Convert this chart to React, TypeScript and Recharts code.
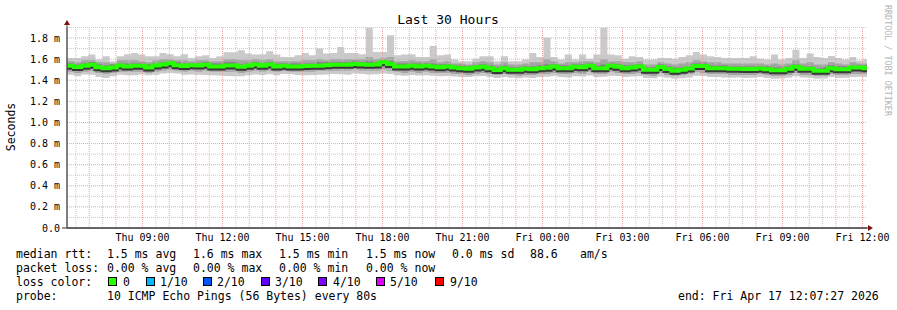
import React from "react";
import { ComposedChart, Area, Line, XAxis, YAxis, ReferenceLine } from "recharts";

const FONT = "'DejaVu Sans Mono', monospace";

// time axis in hours since Thu 00:00, 30 hours ending Fri ~12:10, 16 min steps
const START = 6 + 10 / 60;
const END = START + 30;
const STEP = 16 / 60;

const tickHours = [9, 12, 15, 18, 21, 24, 27, 30, 33, 36];
const tickLabels = [
  "Thu 09:00", "Thu 12:00", "Thu 15:00", "Thu 18:00", "Thu 21:00",
  "Fri 00:00", "Fri 03:00", "Fri 06:00", "Fri 09:00", "Fri 12:00",
];
const yTicks = [0, 0.2, 0.4, 0.6, 0.8, 1.0, 1.2, 1.4, 1.6, 1.8];
const yMinor = [0.1, 0.3, 0.5, 0.7, 0.9, 1.1, 1.3, 1.5, 1.7, 1.9];

// rtt in ms, per 16 min step
const rttMax = [
  1.612, 1.612, 1.628, 1.643, 1.596, 1.628, 1.580, 1.628, 1.646, 1.659,
  1.643, 1.628, 1.628, 1.659, 1.646, 1.628, 1.646, 1.612, 1.628, 1.637,
  1.612, 1.628, 1.665, 1.665, 1.684, 1.653, 1.643, 1.646, 1.674, 1.643,
  1.621, 1.621, 1.637, 1.659, 1.637, 1.700, 1.653, 1.659, 1.716, 1.659,
  1.659, 1.646, 1.899, 1.668, 1.668, 1.826, 1.637, 1.643, 1.646, 1.621,
  1.621, 1.725, 1.637, 1.643, 1.596, 1.580, 1.580, 1.605, 1.628, 1.628,
  1.580, 1.628, 1.580, 1.580, 1.596, 1.659, 1.621, 1.804, 1.621, 1.596,
  1.643, 1.596, 1.643, 1.605, 1.643, 1.899, 1.643, 1.637, 1.605, 1.628,
  1.621, 1.596, 1.596, 1.612, 1.612, 1.605, 1.621, 1.637, 1.668, 1.643,
  1.628, 1.621, 1.612, 1.612, 1.612, 1.612, 1.628, 1.605, 1.596, 1.643,
  1.596, 1.612, 1.690, 1.612, 1.653, 1.621, 1.612, 1.631, 1.612, 1.596,
  1.621, 1.587, 1.600,
];
const rttHi2 = [
  1.58, 1.57, 1.59, 1.59, 1.57, 1.57, 1.56, 1.59, 1.59, 1.59,
  1.58, 1.57, 1.59, 1.60, 1.60, 1.59, 1.59, 1.58, 1.59, 1.59,
  1.58, 1.58, 1.60, 1.60, 1.59, 1.59, 1.60, 1.59, 1.60, 1.58,
  1.58, 1.58, 1.58, 1.59, 1.59, 1.60, 1.59, 1.60, 1.60, 1.60,
  1.60, 1.60, 1.62, 1.60, 1.61, 1.62, 1.58, 1.58, 1.59, 1.58,
  1.58, 1.60, 1.57, 1.58, 1.56, 1.56, 1.55, 1.57, 1.58, 1.57,
  1.55, 1.57, 1.55, 1.55, 1.56, 1.57, 1.57, 1.60, 1.58, 1.56,
  1.57, 1.57, 1.58, 1.58, 1.57, 1.60, 1.58, 1.58, 1.57, 1.57,
  1.58, 1.55, 1.55, 1.57, 1.56, 1.55, 1.56, 1.57, 1.59, 1.58,
  1.57, 1.57, 1.56, 1.56, 1.56, 1.56, 1.56, 1.56, 1.55, 1.56,
  1.55, 1.56, 1.59, 1.56, 1.57, 1.55, 1.55, 1.57, 1.56, 1.55,
  1.57, 1.56, 1.56,
];
const rttHi3 = [
  1.56, 1.55, 1.56, 1.57, 1.55, 1.54, 1.55, 1.56, 1.56, 1.56,
  1.56, 1.55, 1.56, 1.57, 1.58, 1.57, 1.56, 1.56, 1.56, 1.57,
  1.56, 1.56, 1.57, 1.57, 1.55, 1.56, 1.57, 1.56, 1.57, 1.56,
  1.56, 1.56, 1.56, 1.56, 1.56, 1.57, 1.57, 1.57, 1.57, 1.57,
  1.58, 1.57, 1.58, 1.57, 1.59, 1.58, 1.56, 1.56, 1.56, 1.56,
  1.56, 1.56, 1.55, 1.55, 1.54, 1.54, 1.53, 1.54, 1.55, 1.54,
  1.52, 1.54, 1.52, 1.52, 1.53, 1.53, 1.54, 1.55, 1.55, 1.54,
  1.54, 1.55, 1.55, 1.56, 1.54, 1.55, 1.56, 1.55, 1.54, 1.54,
  1.55, 1.52, 1.52, 1.55, 1.53, 1.52, 1.52, 1.53, 1.56, 1.56,
  1.54, 1.54, 1.54, 1.53, 1.53, 1.53, 1.53, 1.53, 1.53, 1.52,
  1.52, 1.53, 1.55, 1.53, 1.53, 1.51, 1.52, 1.54, 1.53, 1.53,
  1.54, 1.54, 1.54,
];
const rttMed = [
  1.537, 1.526, 1.537, 1.546, 1.524, 1.515, 1.521, 1.540, 1.531, 1.537,
  1.537, 1.521, 1.540, 1.550, 1.561, 1.543, 1.534, 1.543, 1.540, 1.546,
  1.531, 1.531, 1.539, 1.539, 1.528, 1.537, 1.550, 1.537, 1.550, 1.531,
  1.537, 1.531, 1.531, 1.534, 1.537, 1.537, 1.543, 1.546, 1.546, 1.546,
  1.554, 1.550, 1.546, 1.550, 1.570, 1.553, 1.531, 1.531, 1.537, 1.531,
  1.537, 1.531, 1.524, 1.531, 1.521, 1.515, 1.509, 1.521, 1.528, 1.515,
  1.498, 1.515, 1.499, 1.499, 1.509, 1.505, 1.515, 1.518, 1.531, 1.515,
  1.515, 1.528, 1.524, 1.537, 1.513, 1.515, 1.537, 1.528, 1.515, 1.521,
  1.531, 1.499, 1.499, 1.526, 1.506, 1.490, 1.499, 1.512, 1.536, 1.536,
  1.515, 1.515, 1.515, 1.510, 1.509, 1.506, 1.506, 1.512, 1.505, 1.496,
  1.496, 1.509, 1.528, 1.509, 1.509, 1.491, 1.491, 1.515, 1.505, 1.505,
  1.521, 1.521, 1.515,
];
const rttLo3 = [
  1.51, 1.50, 1.51, 1.52, 1.50, 1.49, 1.49, 1.51, 1.50, 1.51,
  1.51, 1.50, 1.51, 1.52, 1.53, 1.52, 1.51, 1.51, 1.51, 1.52,
  1.50, 1.50, 1.51, 1.51, 1.50, 1.51, 1.52, 1.51, 1.52, 1.50,
  1.51, 1.50, 1.50, 1.51, 1.51, 1.51, 1.51, 1.52, 1.52, 1.52,
  1.53, 1.52, 1.52, 1.52, 1.54, 1.52, 1.50, 1.50, 1.51, 1.50,
  1.51, 1.50, 1.49, 1.50, 1.49, 1.49, 1.48, 1.49, 1.50, 1.49,
  1.47, 1.49, 1.47, 1.47, 1.48, 1.48, 1.49, 1.49, 1.50, 1.49,
  1.49, 1.50, 1.49, 1.51, 1.48, 1.49, 1.51, 1.50, 1.49, 1.49,
  1.50, 1.47, 1.47, 1.50, 1.48, 1.46, 1.47, 1.48, 1.51, 1.51,
  1.49, 1.49, 1.48, 1.48, 1.48, 1.48, 1.48, 1.48, 1.48, 1.47,
  1.47, 1.48, 1.50, 1.48, 1.48, 1.46, 1.46, 1.49, 1.48, 1.48,
  1.49, 1.49, 1.49,
];
const rttLo2 = [
  1.48, 1.47, 1.48, 1.49, 1.47, 1.46, 1.47, 1.48, 1.48, 1.48,
  1.48, 1.47, 1.48, 1.49, 1.50, 1.49, 1.48, 1.49, 1.48, 1.49,
  1.48, 1.48, 1.48, 1.48, 1.47, 1.48, 1.49, 1.48, 1.49, 1.48,
  1.49, 1.48, 1.48, 1.48, 1.48, 1.49, 1.49, 1.49, 1.49, 1.49,
  1.50, 1.49, 1.49, 1.49, 1.50, 1.49, 1.48, 1.47, 1.48, 1.47,
  1.48, 1.47, 1.47, 1.47, 1.46, 1.46, 1.45, 1.46, 1.47, 1.46,
  1.45, 1.46, 1.45, 1.44, 1.45, 1.45, 1.46, 1.46, 1.47, 1.46,
  1.46, 1.47, 1.46, 1.48, 1.46, 1.46, 1.48, 1.47, 1.46, 1.46,
  1.47, 1.45, 1.44, 1.47, 1.45, 1.44, 1.45, 1.46, 1.48, 1.47,
  1.46, 1.46, 1.46, 1.45, 1.45, 1.45, 1.45, 1.46, 1.45, 1.44,
  1.44, 1.45, 1.47, 1.45, 1.45, 1.44, 1.44, 1.46, 1.45, 1.45,
  1.46, 1.46, 1.46,
];
const rttMin = [
  1.453, 1.437, 1.455, 1.453, 1.431, 1.421, 1.437, 1.453, 1.447, 1.447,
  1.455, 1.447, 1.453, 1.463, 1.470, 1.463, 1.453, 1.455, 1.453, 1.450,
  1.447, 1.445, 1.440, 1.437, 1.437, 1.447, 1.455, 1.450, 1.457, 1.447,
  1.460, 1.457, 1.450, 1.447, 1.450, 1.453, 1.455, 1.460, 1.457, 1.453,
  1.463, 1.460, 1.455, 1.457, 1.463, 1.460, 1.447, 1.443, 1.450, 1.445,
  1.447, 1.443, 1.437, 1.440, 1.435, 1.431, 1.431, 1.437, 1.440, 1.431,
  1.421, 1.430, 1.425, 1.420, 1.427, 1.422, 1.431, 1.433, 1.440, 1.430,
  1.427, 1.437, 1.435, 1.445, 1.431, 1.433, 1.443, 1.440, 1.431, 1.435,
  1.437, 1.422, 1.420, 1.433, 1.425, 1.415, 1.420, 1.427, 1.443, 1.440,
  1.431, 1.430, 1.427, 1.425, 1.427, 1.422, 1.425, 1.430, 1.422, 1.415,
  1.417, 1.425, 1.437, 1.427, 1.425, 1.415, 1.417, 1.430, 1.422, 1.425,
  1.431, 1.433, 1.430,
];

const lossLegend = [
  { label: "0", color: "#26ff00", box: 108, text: 123 },
  { label: "1/10", color: "#00b8ff", box: 146, text: 160 },
  { label: "2/10", color: "#0059ff", box: 203, text: 217 },
  { label: "3/10", color: "#5e00ff", box: 261, text: 275 },
  { label: "4/10", color: "#7e00ff", box: 318, text: 333 },
  { label: "5/10", color: "#dd00ff", box: 376, text: 390 },
  { label: "9/10", color: "#ff0000", box: 435, text: 450 },
];

const rows = rttMed.map((m, i) => ({
  t: START + i * STEP,
  min: rttMin[i],
  lo2: rttLo2[i],
  lo3: rttLo3[i],
  med: m,
  hi3: rttHi3[i],
  hi2: rttHi2[i],
  max: rttMax[i],
}));
rows.push({ ...rows[rows.length - 1], t: END });

const hourLines = Array.from({ length: 30 }, (_, i) => 7 + i);
const halfLines = Array.from({ length: 30 }, (_, i) => 6.5 + i);

const RED_GRID = "#f2a0a0";
const GRAY_GRID = "#c8c8c8";

export default function App() {
  const txt = { fontFamily: FONT, fontSize: 11.5, fill: "#000" };
  return (
    <div style={{ position: "absolute", left: 0, top: 0, width: 897, height: 310, background: "#fff" }}>
      <ComposedChart
        width={897}
        height={310}
        data={rows}
        margin={{ top: 27.5, right: 30, bottom: 62, left: 10 }}
      >
        {halfLines.map((h) => (
          <ReferenceLine key={"h" + h} x={h} stroke={GRAY_GRID} strokeDasharray="1 1" />
        ))}
        {hourLines.map((h) => (
          <ReferenceLine key={"H" + h} x={h} stroke={RED_GRID} strokeDasharray="1 1" />
        ))}
        {yMinor.map((v) => (
          <ReferenceLine key={"m" + v} y={v} stroke={GRAY_GRID} strokeDasharray="1 1" />
        ))}
        {yTicks.slice(1).map((v) => (
          <ReferenceLine key={"M" + v} y={v} stroke={RED_GRID} strokeDasharray="1 1" />
        ))}
        <XAxis
          dataKey="t"
          type="number"
          domain={[START, END]}
          ticks={tickHours}
          tickFormatter={(h) => tickLabels[tickHours.indexOf(h)]}
          allowDataOverflow
          height={20}
          tickLine={false}
          tickSize={0}
          tickMargin={6}
          axisLine={{ stroke: "#333" }}
          tick={{ fontFamily: FONT, fontSize: 10, fill: "#000" }}
        />
        <YAxis
          type="number"
          domain={[0, 1.9]}
          ticks={yTicks}
          tickFormatter={(v) => v.toFixed(1) + (v === 0 ? "" : " m")}
          allowDataOverflow
          width={57}
          tickLine={false}
          tickSize={0}
          tickMargin={7}
          axisLine={{ stroke: "#555" }}
          tick={{ fontFamily: FONT, fontSize: 10, fill: "#000" }}
        />
        <Area dataKey={(d) => [d.min, d.max]} type="stepAfter" stroke="none" fill="#cacaca" fillOpacity={1} isAnimationActive={false} />
        <Area dataKey={(d) => [d.lo2, d.hi2]} type="stepAfter" stroke="none" fill="#a4a4a4" fillOpacity={1} isAnimationActive={false} />
        <Area dataKey={(d) => [d.lo3, d.hi3]} type="stepAfter" stroke="none" fill="#7e7e7e" fillOpacity={1} isAnimationActive={false} />
        <Line dataKey="med" type="stepAfter" stroke="#383838" strokeWidth={4} dot={false} activeDot={false} isAnimationActive={false} style={{ transform: "translateY(2px)" }} />
        <Line dataKey="med" type="stepAfter" stroke="#26ff00" strokeWidth={4} dot={false} activeDot={false} isAnimationActive={false} />
      </ComposedChart>
      <svg width={897} height={310} style={{ position: "absolute", left: 0, top: 0, pointerEvents: "none" }}>
        <text x={448} y={24} textAnchor="middle" style={{ fontFamily: FONT, fontSize: 13 }}>Last 30 Hours</text>
        <text transform="translate(15 127) rotate(-90)" textAnchor="middle" style={{ fontFamily: FONT, fontSize: 11.5 }}>Seconds</text>
        <text transform="translate(885 5) rotate(90)" textAnchor="start" style={{ fontFamily: FONT, fontSize: 8.4, fill: "#b4b4b4" }}>RRDTOOL / TOBI OETIKER</text>
        <line x1={67} y1={228} x2={67} y2={22} stroke="#555" />
        <line x1={62} y1={228} x2={870} y2={228} stroke="#333" />
        <polygon points="64,25 70,25 67,20" fill="#7f1010" />
        <polygon points="868,225 868,231 873,228" fill="#7f1010" />

        <text x={16} y={258} style={txt}>median rtt:</text>
        <text x={107} y={258} style={txt}>1.5 ms avg</text>
        <text x={193} y={258} style={txt}>1.6 ms max</text>
        <text x={279} y={258} style={txt}>1.5 ms min</text>
        <text x={366} y={258} style={txt}>1.5 ms now</text>
        <text x={452} y={258} style={txt}>0.0 ms sd</text>
        <text x={530} y={258} style={txt}>88.6</text>
        <text x={580} y={258} style={txt}>am/s</text>

        <text x={16} y={272} style={txt}>packet loss:</text>
        <text x={107} y={272} style={txt}>0.00 % avg</text>
        <text x={193} y={272} style={txt}>0.00 % max</text>
        <text x={279} y={272} style={txt}>0.00 % min</text>
        <text x={366} y={272} style={txt}>0.00 % now</text>

        <text x={16} y={286} style={txt}>loss color:</text>
        {lossLegend.map((l) => (
          <g key={l.label}>
            <rect x={l.box + 0.5} y={277.5} width={8} height={8} fill={l.color} stroke="#000" />
            <text x={l.text} y={286} style={txt}>{l.label}</text>
          </g>
        ))}

        <text x={16} y={300} style={txt}>probe:</text>
        <text x={107} y={300} style={txt}>10 ICMP Echo Pings (56 Bytes) every 80s</text>
        <text x={678} y={300} style={txt}>end: Fri Apr 17 12:07:27 2026</text>
      </svg>
    </div>
  );
}
